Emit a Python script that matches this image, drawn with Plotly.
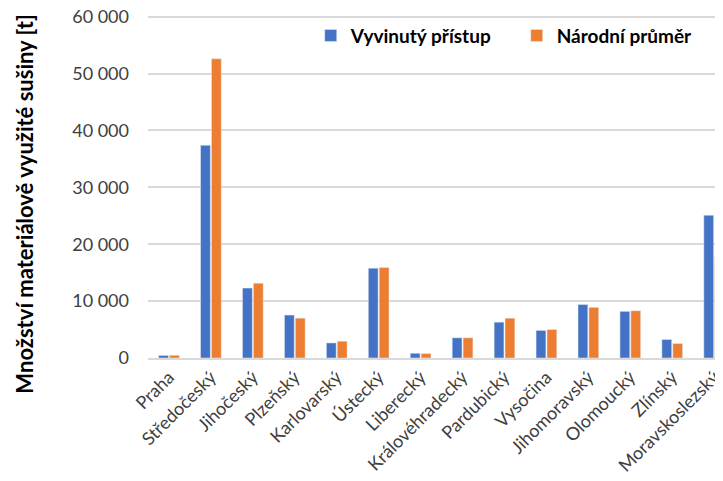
import plotly.graph_objects as go

kraje = ["Praha", "Středočeský", "Jihočeský", "Plzeňský", "Karlovarský", "Ústecký",
         "Liberecký", "Královéhradecký", "Pardubický", "Vysočina", "Jihomoravský",
         "Olomoucký", "Zlínský", "Moravskoslezský"]
vyvinuty = [450, 37400, 12300, 7550, 2650, 15800, 830, 3550, 6300, 4850, 9400, 8200, 3250, 25100]
narodni = [480, 52600, 13150, 7000, 2950, 15900, 780, 3550, 7000, 5000, 8900, 8300, 2550, 17800]
y_ticks = [0, 10000, 20000, 30000, 40000, 50000, 60000]

FONT = "Lato, Carlito, Calibri, sans-serif"

fig = go.Figure()
fig.add_trace(go.Bar(x=kraje, y=vyvinuty, name="Vyvinutý přístup", marker_color="#4472C4"))
fig.add_trace(go.Bar(x=kraje, y=narodni, name="Národní průměr", marker_color="#ED7D31"))

# the page has an 8px body margin, so the figure is a bit smaller than the window
fig.update_layout(
    width=715, height=473,
    margin=dict(l=140, r=0, t=7, b=123, autoexpand=False),
    plot_bgcolor="white", paper_bgcolor="white",
    font=dict(family=FONT, size=18, color="#404040"),
    separators=", ",
    barmode="group", bargap=0.48, bargroupgap=0.1,
    legend=dict(orientation="h", x=0.283, y=0.94, xanchor="left", yanchor="middle",
                font=dict(size=19, color="black", weight="bold"),
                bgcolor="rgba(0,0,0,0)", entrywidth=161, entrywidthmode="pixels"),
    showlegend=True,
)
fig.update_xaxes(range=[-0.5, 13.21], tickangle=-45, showgrid=False, automargin=False,
                 showline=True, linecolor="#d9d9d9", linewidth=1.5,
                 tickfont=dict(size=18, color="#404040"))
# a little headroom so the 60 000 gridline is drawn
fig.update_yaxes(range=[0, 60300], tickvals=y_ticks, tickformat=",d", automargin=False,
                 gridcolor="#d9d9d9", gridwidth=1.5, zeroline=False,
                 ticklabeloverflow="allow",
                 ticklabelstandoff=18, tickfont=dict(size=18, color="#404040"))

fig.add_annotation(x=-0.2139, y=0.45, xref="paper", yref="paper",
                   text="Množství materiálově využité sušiny [t]", textangle=-90,
                   showarrow=False, xanchor="center", yanchor="middle",
                   font=dict(size=22, color="black", weight="bold"))

fig.write_html("out.html")
